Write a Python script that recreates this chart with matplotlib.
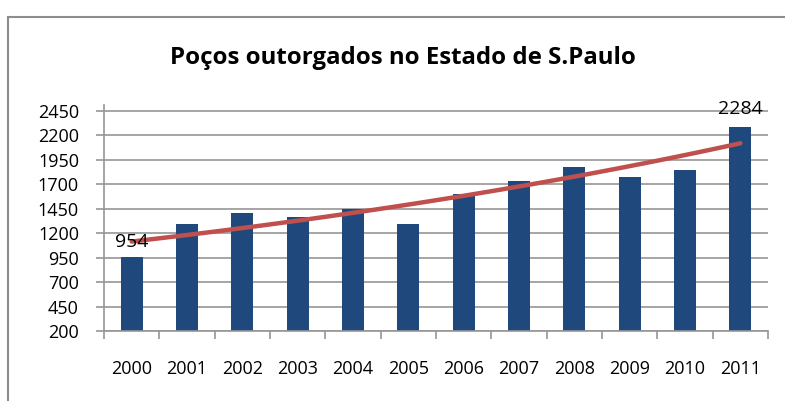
import numpy as np
import matplotlib
matplotlib.use("Agg")
import matplotlib.pyplot as plt
from matplotlib.lines import Line2D
from matplotlib.ticker import FixedLocator

plt.rcParams['font.family'] = ['Open Sans', 'DejaVu Sans']

years = ["2000", "2001", "2002", "2003", "2004", "2005",
         "2006", "2007", "2008", "2009", "2010", "2011"]
pocos = [954, 1297, 1400, 1366, 1451, 1297, 1602, 1728, 1872, 1769, 1841, 2284]
yticks = [200, 450, 700, 950, 1200, 1450, 1700, 1950, 2200, 2450]
title = "Poços outorgados no Estado de S.Paulo"

x = np.arange(len(years))
vals = np.array(pocos, dtype=float)

# exponential trendline like excel
b, a = np.polyfit(x, np.log(vals), 1)
xt = np.linspace(x[0], x[-1], 100)
trend = np.exp(a + b * xt)

fig = plt.figure(figsize=(7.85, 4.01), dpi=100)
ax = fig.add_axes([104/785, 70/401, (768-104)/785, (331-105)/401])

ax.bar(x, vals, width=0.4, color="#1F497D", zorder=2)
ax.plot(xt, trend, color="#C0504D", lw=3.2, solid_capstyle="round", zorder=3)

# data labels for first and last
ax.text(x[0], vals[0] + 160, str(pocos[0]), ha="center", va="center", fontsize=14, color="black", zorder=4)
ax.text(x[-1], vals[-1] + 180, str(pocos[-1]), ha="center", va="center", fontsize=14, color="black", zorder=4)

ax.set_xlim(-0.5, len(years) - 0.5)
ax.set_ylim(200, 2508)
ax.set_yticks(yticks)
ax.set_yticklabels([str(t) for t in yticks], fontsize=13)
ax.yaxis.grid(True, color="#969696", lw=1.2, zorder=0)
ax.set_axisbelow(True)

ax.set_xticks(x)
ax.set_xticklabels(years, fontsize=13)
ax.xaxis.set_minor_locator(FixedLocator(np.arange(-0.5, len(years), 1.0)))
ax.tick_params(axis="x", which="major", length=0, pad=21)
ax.tick_params(axis="x", which="minor", length=6, color="#969696", width=1.2)
ax.tick_params(axis="y", length=6, color="#969696", width=1.2, pad=12)

for s in ["top", "right"]:
    ax.spines[s].set_visible(False)
for s in ["left", "bottom"]:
    ax.spines[s].set_color("#969696")
    ax.spines[s].set_linewidth(1.2)

fig.text(403/785, 1 - 58/401, title, ha="center", va="center",
         fontsize=17.3, fontweight="bold")

# chart border (left and top visible)
fig.add_artist(Line2D([8/785, 8/785], [0, 1 - 17/401], color="#8c8c8c", lw=1.5))
fig.add_artist(Line2D([8/785, 1], [1 - 17/401, 1 - 17/401], color="#8c8c8c", lw=1.5))

fig.savefig("out.png", dpi=100)
